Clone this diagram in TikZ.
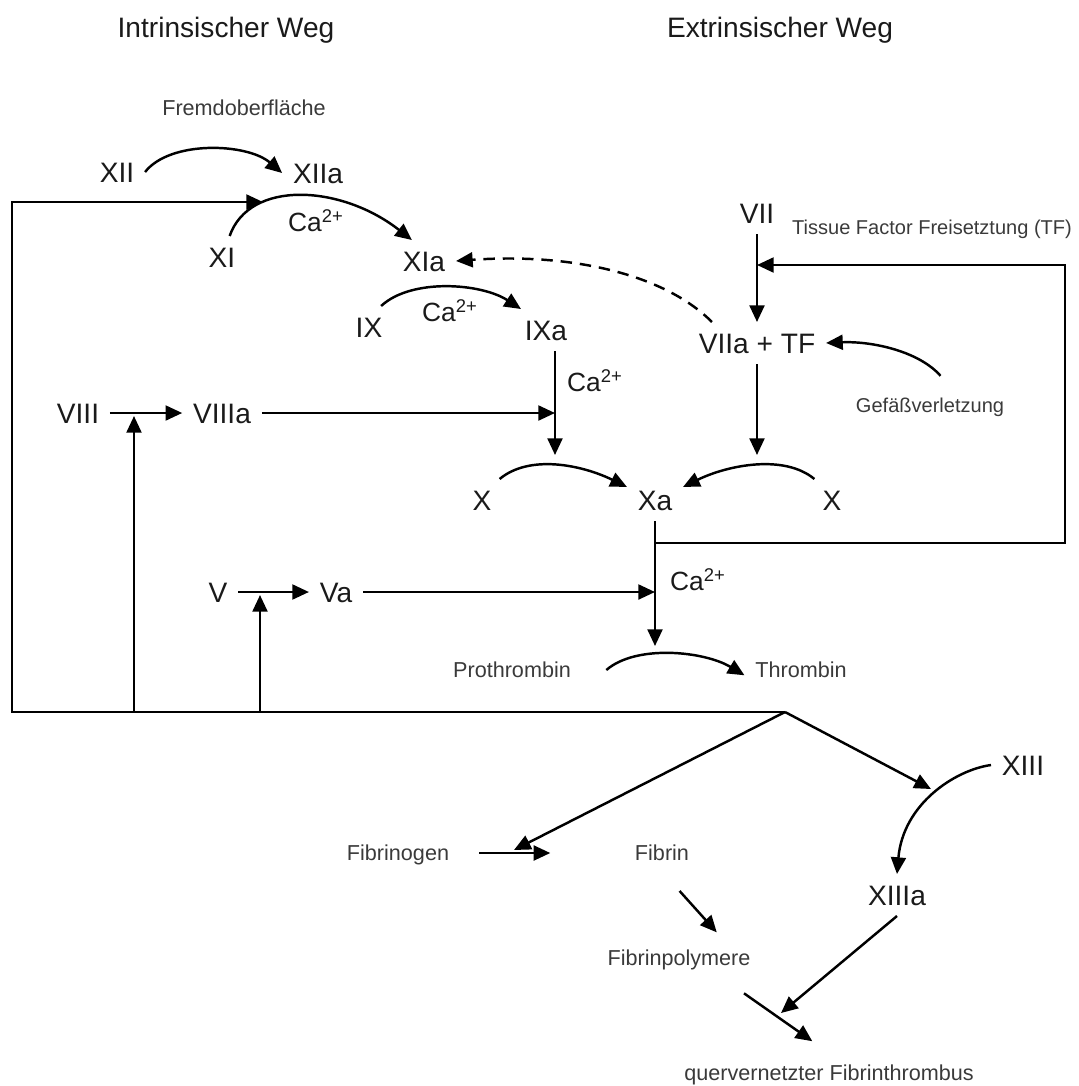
\documentclass[tikz,border=0pt]{standalone}
\usepackage{fontspec}
\setmainfont{Liberation Sans}
\usetikzlibrary{arrows.meta}
\definecolor{txtDark}{HTML}{1a1a1a}
\definecolor{txtGray}{HTML}{3a3a3a}

\begin{document}
\begin{tikzpicture}[
  x=0.02cm, y=-0.02cm,
  fac/.style  ={font=\fontsize{16}{19}\selectfont, text=txtDark, inner sep=6pt, text height=11.5pt, text depth=0pt},
  lbl/.style  ={font=\fontsize{12.3}{15}\selectfont, text=txtGray, inner sep=6pt, text height=8.8pt, text depth=0pt},
  lblsm/.style={lbl, font=\fontsize{11.4}{14}\selectfont},
  ttl/.style  ={font=\fontsize{16}{19}\selectfont, text=txtDark},
  ca/.style   ={font=\fontsize{15}{18}\selectfont, text=txtDark, inner sep=0pt},
  arr/.style  ={-{Triangle[length=9.5pt, width=8.5pt]}, line width=1.4pt},
  dsh/.style  ={arr, dash pattern=on 6.5pt off 4.5pt},
]
\useasboundingbox (0,0) rectangle (1079,1086);

% ============ Titles ============
\node[ttl] (tintr) at (226,30) {Intrinsischer Weg};
\node[ttl] (textr) at (780,30) {Extrinsischer Weg};

% ============ Intrinsic pathway ============
\node[lbl] (fremd) at (244,108) {Fremdoberfläche};
\node[fac] (xii)   at (117,172) {XII};
\node[fac] (xiia)  at (318,173) {XIIa};
\node[fac] (xi)    at (222,257) {XI};
\node[fac] (xia)   at (424,261) {XIa};
\node[fac] (ix)    at (369,327) {IX};
\node[fac] (ixa)   at (546,330) {IXa};
\node[fac] (viii)  at (78,413)  {VIII};
\node[fac] (viiia) at (222,413) {VIIIa};
\node[fac] (v)     at (218,592) {V};
\node[fac] (va)    at (336,592) {Va};

% ============ Extrinsic pathway ============
\node[fac]   (vii)     at (757,213) {VII};
\node[lblsm] (tfrel)   at (932,227) {Tissue Factor Freisetztung (TF)};
\node[fac]   (viiatf)  at (757,343) {VIIa + TF};
\node[lblsm] (gefaess) at (930,405) {Gefäßverletzung};

% ============ Common pathway ============
\node[fac] (xl)     at (482,500)  {X};
\node[fac] (xa)     at (655,500)  {Xa};
\node[fac] (xr)     at (832,500)  {X};
\node[lbl] (prothr) at (512,670)  {Prothrombin};
\node[lbl] (thr)    at (801,670)  {Thrombin};
\node[fac] (xiii)   at (1023,765) {XIII};
\node[fac] (xiiia)  at (897,895)  {XIIIa};
\node[lbl] (fbgen)  at (398,853)  {Fibrinogen};
\node[lbl] (fibrin) at (662,853)  {Fibrin};
\node[lbl] (fpoly)  at (679,958)  {Fibrinpolymere};
\node[lbl] (thromb) at (829,1073) {quervernetzter Fibrinthrombus};

% ============ Calcium ============
\node[ca] (ca1) at (316,221) {Ca\textsuperscript{2+}};
\node[ca] (ca2) at (450,311) {Ca\textsuperscript{2+}};
\node[ca] (ca3) at (595,381) {Ca\textsuperscript{2+}};
\node[ca] (ca4) at (698,580) {Ca\textsuperscript{2+}};

% ============ Junction points ============
\coordinate (xiin)     at (263,202);
\coordinate (xlin)     at (555,455);
\coordinate (xrin)     at (757,455);
\coordinate (thrin)    at (655,646);
\coordinate (viiin)    at (757,265);
\coordinate (fbout)    at (655,543);
\coordinate (fbcorner) at (1065,543);
\coordinate (fork)     at (785,712);
\coordinate (loopx)    at (12,712);
\coordinate (viiijoin) at (134,416);
\coordinate (vjoin)    at (260,595);
\coordinate (fbgin)    at (514,850);
\coordinate (xiiiin)   at (931,789);
\coordinate (xlink)    at (781,1013);

% ============ Straight arrows ============
\foreach \a/\b in {viii/viiia, v/va, vii/viiatf, viiatf/xrin, xa/thrin} {
  \draw[arr] (\a) -- (\b);
}
\draw[arr] (ixa.south -| xlin) -- (xlin);
\draw[arr] (viiia) -- (viiia -| xlin);
\draw[arr] (va) -- (va -| thrin);
\draw[arr] (viiijoin |- fork) -- (viiijoin);
\draw[arr] (vjoin |- fork) -- (vjoin);

% ============ Thrombin feedback ============
\draw[arr] (fork) -- (loopx) |- (xiin);
\draw[arr] (fbout) -- (fbcorner) |- (viiin);
\draw[arr] (fork) -- (fbgin);
\draw[arr] (fork) -- (xiiiin);

% ============ Activation curves ============
\draw[arr] (xii.east) .. controls +(25,-32) and +(-35,-30) .. (xiia.west);
\draw[arr] (xi.70) .. controls +(20,-57) and +(-70,-55) .. (xia.120);
\draw[arr] (ix.60) .. controls +(30,-28) and +(-40,-26) .. (ixa.140);
\draw[dsh] (viiatf.155) .. controls +(-50,-50) and +(110,-8) .. (xia.east);
\draw[arr] ([xshift=6pt,yshift=6pt]gefaess.north) .. controls +(-22,-25) and +(45,-2) .. (viiatf.east);
\draw[arr] (xl.50) .. controls +(30,-25) and +(-45,-22) .. (xa.155);
\draw[arr] (xr.130) .. controls +(-30,-25) and +(45,-22) .. (xa.25);
\draw[arr] ([xshift=14pt]prothr.east) .. controls +(30,-26) and +(-40,-24) .. ([yshift=-3pt]thr.west);
\draw[arr] (xiii.west) .. controls +(-36,5) and +(6,-70) .. (xiiia.north);

% ============ Fibrin formation ============
\draw[arr] ([xshift=11pt]fbgen.east) -- ([xshift=-42pt]fibrin.west);
\draw[arr] ([xshift=10pt,yshift=-11pt]fibrin.south) -- ([xshift=21.5pt,yshift=4pt]fpoly.north);
\draw[arr] ([xshift=37pt,yshift=-9.5pt]fpoly.south) -- ([xshift=-9.5pt,yshift=7.5pt]thromb.north);
\draw[arr] (xiiia.south) -- (xlink);

\end{tikzpicture}
\end{document}
